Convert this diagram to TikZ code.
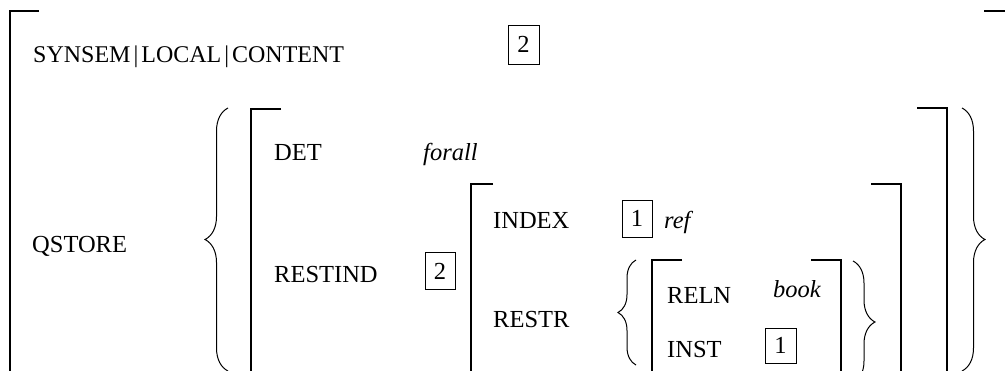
\documentclass[tikz,border=0pt]{standalone}
\usepackage{fontspec}
\setmainfont{Liberation Serif}
\usetikzlibrary{decorations.pathreplacing}
\tikzset{
    attr/.style={anchor=base west, inner sep=0pt, font=\fontsize{24.5}{29}\selectfont},
    val/.style={attr, font=\fontsize{24.5}{29}\selectfont\itshape},
    tag/.style={draw, line width=0.9pt, inner sep=0pt, minimum width=30pt, minimum height=37pt, font=\fontsize{24.5}{29}\selectfont},
    brk/.style={line width=1.1pt},
    crly/.style={line width=1pt, decorate, decoration={brace, amplitude=#1}}
}
\newcommand{\pth}{\hspace{3pt}|\hspace{3pt}}

\begin{document}
\begin{tikzpicture}[x=1pt, y=-1pt]
    \useasboundingbox (0,0) rectangle (1005,370);

    % outer matrix
    \draw[brk] (39,11) -- (10,11) -- (10,380);
    \draw[brk] (984,11) -- (1006,11) -- (1006,380);
    \node[attr, font=\fontsize{24}{29}\selectfont] (content) at (33,62) {SYNSEM\pth LOCAL\pth CONTENT};
    \node[tag, minimum width=31pt, minimum height=39pt] (tagtop) at (523.5,44.5) {2};
    \node[attr] (qstore) at (32,252) {QSTORE};

    % quantifier set
    \draw[crly=23] (228,371) -- (228,108);
    \draw[crly=23] (962,108) -- (962,371);
    \draw[brk] (281,109) -- (251,109) -- (251,380);
    \draw[brk] (917,108) -- (947,108) -- (947,380);
    \node[attr] (det) at (274,160) {DET};
    \node[val] (forall) at (423,160) {forall};
    \node[attr] (restind) at (274,282) {RESTIND};
    \node[tag] (tagind) at (440,271) {2};

    % restricted index
    \draw[brk] (493,184) -- (471,184) -- (471,380);
    \draw[brk] (871,184) -- (901,184) -- (901,380);
    \node[attr] (index) at (493,228) {INDEX};
    \node[tag] (tagidx) at (637,218.5) {1};
    \node[val] (ref) at (664,228) {ref};
    \node[attr] (restr) at (493,327) {RESTR};

    % restriction set
    \draw[crly=18] (636,365) -- (636,260);
    \draw[crly=22] (853,261) -- (853,383);
    \draw[brk] (682,260) -- (652,260) -- (652,380);
    \draw[brk] (811,260) -- (841,260) -- (841,380);
    \node[attr] (reln) at (667,303) {RELN};
    \node[val] (book) at (773,297) {book};
    \node[attr] (inst) at (667,357) {INST};
    \node[tag, minimum width=31pt, minimum height=35pt] (taginst) at (780.5,345.5) {1};
\end{tikzpicture}
\end{document}
